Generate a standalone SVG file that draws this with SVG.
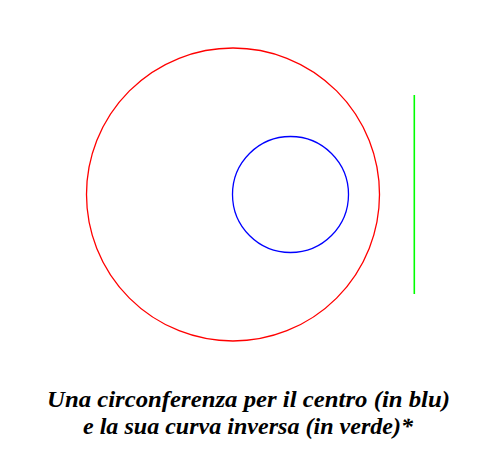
<svg xmlns="http://www.w3.org/2000/svg" width="479" height="449" viewBox="0 0 479 449">
<style>
.t{font-family:"Liberation Serif","Times New Roman",serif;font-weight:bold;font-style:italic;font-size:24px;fill:#000;text-anchor:middle}
</style>
<rect width="479" height="449" fill="#fff"/>
<g id="red-circle"><circle cx="233" cy="194.5" r="146.5" fill="none" stroke="#ff0000" stroke-width="1.3"/></g>
<g id="blue-circle"><circle cx="290.5" cy="194.5" r="58" fill="none" stroke="#0000ff" stroke-width="1.3"/></g>
<g id="green-line"><line x1="414.3" y1="95" x2="414.3" y2="294" stroke="#00ff00" stroke-width="1.6"/></g>
<g id="caption">
<text class="t" x="248.5" y="407" textLength="403" lengthAdjust="spacingAndGlyphs">Una circonferenza per il centro (in blu)</text>
<text class="t" x="248" y="434" textLength="330" lengthAdjust="spacingAndGlyphs">e la sua curva inversa (in verde)*</text>
</g>
</svg>
